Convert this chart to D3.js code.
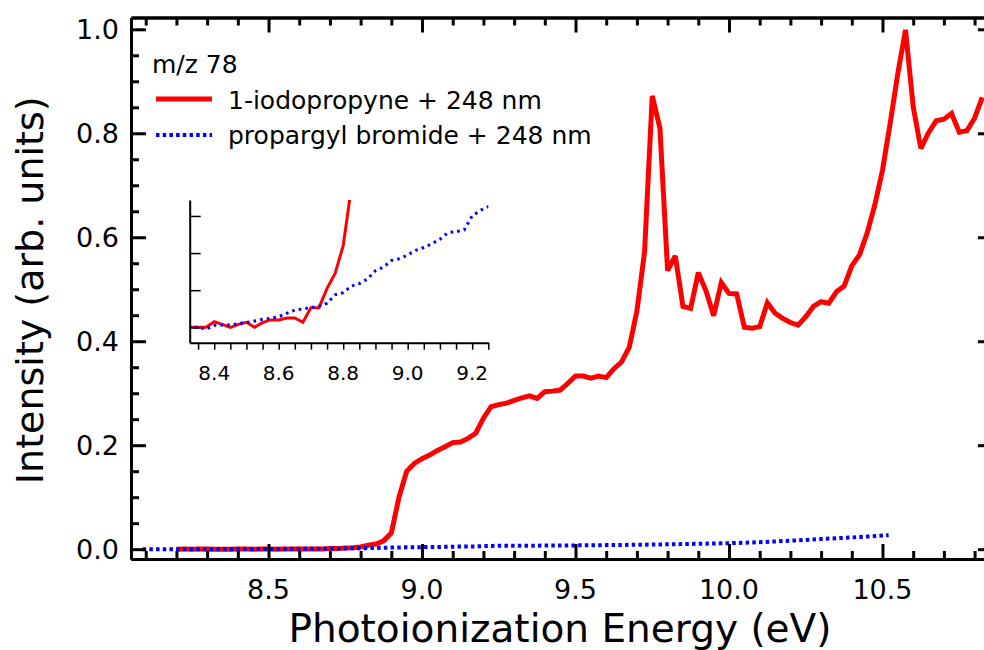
<!DOCTYPE html>
<html>
<head>
<meta charset="utf-8">
<script src="https://cdn.jsdelivr.net/npm/d3@7/dist/d3.min.js"></script>
<style>
  html, body { margin: 0; padding: 0; background: #fff; }
  svg { display: block; }
  text { font-family: "DejaVu Sans", Verdana, sans-serif; fill: #000; }
</style>
</head>
<body>
<svg id="chart" width="984" height="650"></svg>
<script>
// ---------------- data ----------------
const redEnergy = [8.200,8.225,8.250,8.275,8.300,8.325,8.350,8.375,8.400,8.425,8.450,8.475,8.500,8.525,8.550,8.575,8.600,8.625,8.650,8.675,8.700,8.725,8.750,8.775,8.800,8.825,8.850,8.875,8.900,8.925,8.950,8.975,9.000,9.025,9.050,9.075,9.100,9.125,9.150,9.175,9.200,9.225,9.250,9.275,9.300,9.325,9.350,9.375,9.400,9.425,9.450,9.475,9.500,9.525,9.550,9.575,9.600,9.625,9.650,9.675,9.700,9.725,9.750,9.775,9.800,9.825,9.850,9.875,9.900,9.925,9.950,9.975,10.000,10.025,10.050,10.075,10.100,10.125,10.150,10.175,10.200,10.225,10.250,10.275,10.300,10.325,10.350,10.375,10.400,10.425,10.450,10.475,10.500,10.525,10.550,10.575,10.600,10.625,10.650,10.675,10.700,10.725,10.750,10.775,10.800,10.825];
const redSignal = [0.0000,0.0001,0.0000,0.0002,0.0001,0.0000,0.0000,0.0000,0.0003,0.00016,0.0000,0.00016,0.00027,0.0000,0.00025,0.0004,0.0004,0.0005,0.0005,0.00027,0.00106,0.00106,0.0021,0.0029,0.0044,0.0075,0.010,0.016,0.031,0.100,0.150,0.165,0.174,0.181,0.190,0.197,0.205,0.206,0.213,0.223,0.252,0.274,0.278,0.281,0.286,0.291,0.295,0.290,0.303,0.304,0.306,0.319,0.333,0.333,0.329,0.333,0.330,0.347,0.360,0.388,0.458,0.572,0.872,0.810,0.536,0.564,0.467,0.463,0.532,0.497,0.449,0.513,0.492,0.491,0.427,0.425,0.428,0.474,0.454,0.444,0.436,0.431,0.447,0.467,0.476,0.473,0.495,0.506,0.545,0.566,0.608,0.662,0.729,0.819,0.915,0.999,0.851,0.771,0.801,0.824,0.827,0.838,0.802,0.805,0.829,0.869];

const blueEnergy = [8.09,8.15,8.20,8.25,8.30,8.325,8.350,8.375,8.400,8.425,8.450,8.475,8.500,8.525,8.550,8.575,8.600,8.625,8.650,8.675,8.700,8.725,8.750,8.775,8.800,8.825,8.850,8.875,8.900,8.925,8.950,8.975,9.000,9.025,9.050,9.075,9.100,9.125,9.150,9.175,9.200,9.225,9.250,9.30,9.35,9.40,9.45,9.50,9.55,9.60,9.65,9.70,9.75,9.80,9.85,9.90,9.95,10.00,10.05,10.10,10.15,10.20,10.25,10.30,10.35,10.40,10.45,10.50,10.52];
const blueSignal = [0.0000,0.0000,0.0000,0.0000,0.0000,0.0000,0.0000,-0.0001,0.0001,0.00012,0.00012,0.0002,0.00025,0.00034,0.00043,0.00048,0.00057,0.00075,0.00093,0.00099,0.00106,0.00113,0.0013,0.00175,0.00187,0.00222,0.00235,0.0026,0.00305,0.00325,0.0036,0.0037,0.0039,0.00415,0.0043,0.0045,0.00475,0.0051,0.00515,0.00525,0.0060,0.0063,0.0065,0.0066,0.0067,0.0069,0.0071,0.0073,0.0075,0.0078,0.0081,0.0085,0.0089,0.0093,0.0098,0.0103,0.0109,0.0115,0.0124,0.0134,0.0148,0.0163,0.0178,0.0195,0.0210,0.0226,0.0242,0.0262,0.0270];

const mainXTicks = [8.5, 9.0, 9.5, 10.0, 10.5];
const mainYTicks = [0.0, 0.2, 0.4, 0.6, 0.8, 1.0];
const insetXTicks = [8.4, 8.6, 8.8, 9.0, 9.2];
const insetYTicks = [0.000, 0.002, 0.004, 0.006];

const legendTitle = "m/z 78";
const seriesNames = ["1-iodopropyne + 248 nm", "propargyl bromide + 248 nm"];
const xTitle = "Photoionization Energy (eV)";
const yTitle = "Intensity (arb. units)";

const RED = "#ff0000", BLUE = "#0000ff";

// ---------------- layout ----------------
const svg = d3.select("#chart");
const M = { left: 131, right: 993, top: 17.5, bottom: 559 };

const x = d3.scaleLinear().domain([8.052, 10.860]).range([M.left, M.right]);
const y = d3.scaleLinear().domain([-0.0189, 1.0227]).range([M.bottom, M.top]);

const red = redEnergy.map((e, i) => [e, redSignal[i]]);
const blue = blueEnergy.map((e, i) => [e, blueSignal[i]]);

const defs = svg.append("defs");
defs.append("clipPath").attr("id", "mainClip").append("rect")
  .attr("x", M.left).attr("y", M.top).attr("width", M.right - M.left).attr("height", M.bottom - M.top);

const mainLine = d3.line().x(d => x(d[0])).y(d => y(d[1]));

const plot = svg.append("g").attr("clip-path", "url(#mainClip)");
plot.append("path").datum(red).attr("d", mainLine)
  .attr("fill", "none").attr("stroke", RED).attr("stroke-width", 5)
  .attr("stroke-linejoin", "miter").attr("stroke-miterlimit", 3);
plot.append("path").datum(blue).attr("d", mainLine)
  .attr("fill", "none").attr("stroke", BLUE).attr("stroke-width", 4)
  .attr("stroke-dasharray", "3.5,3.2");

// ---------------- main axes (mirrored, inward ticks) ----------------
const xMinor = d3.range(81, 109).map(v => v / 10).filter(v => Math.abs(v * 2 - Math.round(v * 2)) > 1e-6);
const yMinor = d3.range(0, 21).map(v => v / 20).filter(v => Math.abs(v * 5 - Math.round(v * 5)) > 1e-6);

function addAxis(axisFn, scale, pos, isX) {
  const tr = isX ? `translate(0,${pos})` : `translate(${pos},0)`;
  const g1 = svg.append("g").attr("transform", tr);
  g1.call(axisFn(scale).tickValues(isX ? xMinor : yMinor).tickSize(8).tickFormat("").tickSizeOuter(0));
  const g2 = svg.append("g").attr("transform", tr);
  g2.call(axisFn(scale).tickValues(isX ? mainXTicks : mainYTicks).tickSize(15).tickFormat("").tickSizeOuter(0));
  [g1, g2].forEach(g => {
    g.selectAll("path.domain").attr("stroke", "#000").attr("stroke-width", 3);
    g.selectAll(".tick line").attr("stroke", "#000").attr("stroke-width", 3);
  });
}
addAxis(d3.axisTop, x, M.bottom, true);
addAxis(d3.axisBottom, x, M.top, true);
addAxis(d3.axisRight, y, M.left, false);
addAxis(d3.axisLeft, y, M.right, false);

// tick labels
svg.append("g").selectAll("text").data(mainXTicks).join("text")
  .attr("x", d => x(d)).attr("y", 599)
  .attr("text-anchor", "middle").attr("font-size", 27)
  .text(d => d.toFixed(1));
svg.append("g").selectAll("text").data(mainYTicks).join("text")
  .attr("x", 119).attr("y", d => y(d)).attr("dy", "0.36em")
  .attr("text-anchor", "end").attr("font-size", 27)
  .text(d => d.toFixed(1));

// axis titles
svg.append("text").attr("x", (M.left + 983) / 2 + 3).attr("y", 642)
  .attr("text-anchor", "middle").attr("font-size", 39).text(xTitle);
svg.append("text").attr("transform", `translate(43,${(M.top + M.bottom) / 2 + 2}) rotate(-90)`)
  .attr("text-anchor", "middle").attr("font-size", 38).text(yTitle);

// ---------------- legend ----------------
const lg = svg.append("g");
lg.append("text").attr("x", 152).attr("y", 73).attr("font-size", 25).text(legendTitle);
lg.append("line").attr("x1", 156).attr("x2", 212).attr("y1", 99).attr("y2", 99)
  .attr("stroke", RED).attr("stroke-width", 5);
lg.append("text").attr("x", 228).attr("y", 109).attr("font-size", 25).text(seriesNames[0]);
lg.append("line").attr("x1", 156).attr("x2", 212).attr("y1", 135).attr("y2", 135)
  .attr("stroke", BLUE).attr("stroke-width", 4).attr("stroke-dasharray", "3.5,3.2");
lg.append("text").attr("x", 228).attr("y", 144).attr("font-size", 25).text(seriesNames[1]);

// ---------------- inset ----------------
const I = { left: 189.7, right: 488.3, top: 200, bottom: 342.7 };
const ix = d3.scaleLinear().domain([8.324, 9.25]).range([I.left, I.right]);
const iy = d3.scaleLinear().domain([-0.00083, 0.00686]).range([I.bottom, I.top]);

defs.append("clipPath").attr("id", "insetClip").append("rect")
  .attr("x", I.left).attr("y", I.top).attr("width", I.right - I.left).attr("height", I.bottom - I.top);

const insetLine = d3.line().x(d => ix(d[0])).y(d => iy(d[1]));
const ip = svg.append("g").attr("clip-path", "url(#insetClip)");
ip.append("path").datum(red).attr("d", insetLine)
  .attr("fill", "none").attr("stroke", RED).attr("stroke-width", 3);
ip.append("path").datum(blue).attr("d", insetLine)
  .attr("fill", "none").attr("stroke", BLUE).attr("stroke-width", 3)
  .attr("stroke-dasharray", "2.6,4.1");

const insetMinor = d3.range(167, 186).map(v => v / 20);
const giB = svg.append("g").attr("transform", `translate(0,${I.bottom})`);
giB.call(d3.axisBottom(ix).tickValues(insetMinor).tickSize(7).tickFormat("").tickSizeOuter(0));
const giL = svg.append("g").attr("transform", `translate(${I.left},0)`);
giL.call(d3.axisRight(iy).tickValues(insetYTicks).tickSize(11).tickFormat("").tickSizeOuter(0));
[giB, giL].forEach(g => {
  g.selectAll("path.domain").attr("stroke", "#000").attr("stroke-width", 2);
  g.selectAll(".tick line").attr("stroke", "#000").attr("stroke-width", 1.5);
});
svg.append("g").selectAll("text").data(insetXTicks).join("text")
  .attr("x", d => ix(d)).attr("y", 380)
  .attr("text-anchor", "middle").attr("font-size", 20)
  .text(d => d.toFixed(1));
</script>
</body>
</html>
